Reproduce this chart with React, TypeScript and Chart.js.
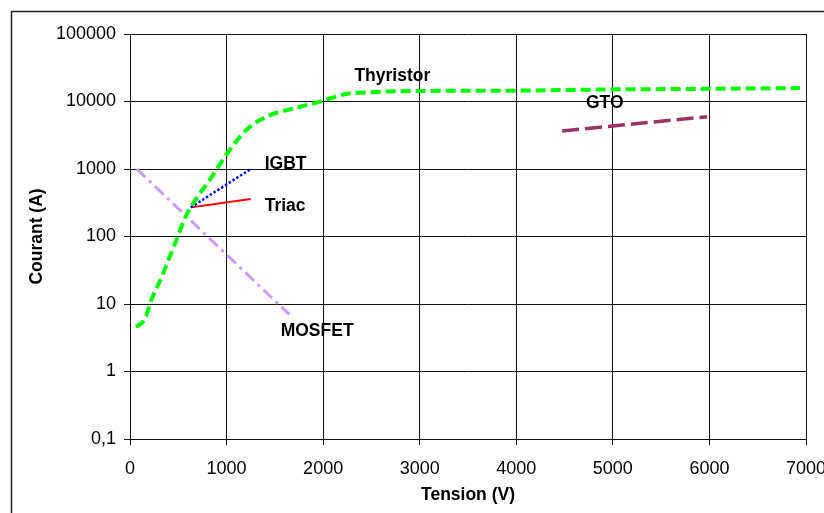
import React, { useEffect, useRef } from "react";
import { Chart, registerables } from "chart.js";

Chart.register(...registerables);

// ---- data ----
const thyristorV = [62, 120, 172, 207, 327, 482, 586, 689, 826, 1012, 1206, 1412, 1756, 1994, 2221, 2479, 2996, 3874, 4990, 5992, 6939];
const thyristorI = [4.6, 5.2, 6.9, 10.2, 25, 90, 210, 370, 690, 1740, 3800, 5960, 8300, 10200, 12800, 13700, 14300, 14450, 15100, 15400, 15800];

const mosfetV = [70, 1650];
const mosfetI = [1000, 7];

const igbtV = [630, 1250];
const igbtI = [270, 1000];

const triacV = [630, 1250];
const triacI = [270, 360];

const gtoV = [4475, 5975];
const gtoI = [3660, 5960];

const labelTexts = ["Thyristor", "IGBT", "Triac", "MOSFET", "GTO"];
const labelV = [2324, 1395, 1395, 1560, 4721];
const labelI = [23900, 1190, 283, 3.98, 9500];

const xTickValues = [0, 1000, 2000, 3000, 4000, 5000, 6000, 7000];
const xTickLabels = ["0", "1000", "2000", "3000", "4000", "5000", "6000", "7000"];
const yTickValues = [0.1, 1, 10, 100, 1000, 10000, 100000];
const yTickLabels = ["0,1", "1", "10", "100", "1000", "10000", "100000"];

const FONT = "'Liberation Sans', Arial, sans-serif";

const toPts = (xs: number[], ys: number[]) => xs.map((x, i) => ({ x, y: ys[i] }));

const framePlugin = {
  id: "frame",
  beforeDraw(chart: any) {
    const ctx = chart.ctx;
    ctx.save();
    ctx.fillStyle = "#fff";
    ctx.fillRect(0, 0, chart.width, chart.height);
    ctx.strokeStyle = "#222";
    ctx.lineWidth = 1.5;
    ctx.beginPath();
    ctx.moveTo(11.5, chart.height + 2);
    ctx.lineTo(11.5, 11.5);
    ctx.lineTo(chart.width + 2, 11.5);
    ctx.stroke();
    ctx.restore();
  },
};

const labelPlugin = {
  id: "seriesLabels",
  afterDatasetsDraw(chart: any) {
    const ctx = chart.ctx;
    const xs = chart.scales.x;
    const ys = chart.scales.y;
    ctx.save();
    ctx.fillStyle = "#000";
    ctx.font = `bold 17.5px ${FONT}`;
    ctx.textAlign = "left";
    ctx.textBaseline = "middle";
    labelTexts.forEach((t, i) => {
      ctx.fillText(t, xs.getPixelForValue(labelV[i]), ys.getPixelForValue(labelI[i]));
    });
    ctx.restore();
  },
};

const findLabel = (vals: number[], labels: string[], v: number) => {
  const i = vals.findIndex((t) => Math.abs(t - v) < 1e-9 * Math.max(1, Math.abs(t)));
  return i >= 0 ? labels[i] : "";
};

export default function App() {
  const ref = useRef<HTMLCanvasElement>(null);

  useEffect(() => {
    if (!ref.current) return;
    const chart = new Chart(ref.current, {
      type: "scatter",
      data: {
        datasets: [
          {
            label: "Thyristor",
            data: toPts(thyristorV, thyristorI),
            showLine: true,
            borderColor: "#00FF00",
            borderWidth: 4,
            borderDash: [10, 5],
            pointRadius: 0,
            cubicInterpolationMode: "monotone",
          },
          {
            label: "MOSFET",
            data: toPts(mosfetV, mosfetI),
            showLine: true,
            borderColor: "#CC99FF",
            borderWidth: 3,
            borderDash: [12, 5, 3, 5],
            pointRadius: 0,
          },
          {
            label: "IGBT",
            data: toPts(igbtV, igbtI),
            showLine: true,
            borderColor: "#0000FF",
            borderWidth: 2.5,
            borderDash: [2.5, 2],
            pointRadius: 0,
          },
          {
            label: "Triac",
            data: toPts(triacV, triacI),
            showLine: true,
            borderColor: "#FF0000",
            borderWidth: 2,
            pointRadius: 0,
          },
          {
            label: "GTO",
            data: toPts(gtoV, gtoI),
            showLine: true,
            borderColor: "#993366",
            borderWidth: 3.5,
            borderDash: [17, 6],
            pointRadius: 0,
          },
        ],
      },
      options: {
        responsive: false,
        animation: false,
        layout: { padding: { left: 0, top: 34, right: 18, bottom: 0 } },
        plugins: {
          legend: { display: false },
          tooltip: { enabled: false },
        },
        scales: {
          x: {
            type: "linear",
            min: 0,
            max: 7000,
            afterBuildTicks: (s: any) => {
              s.ticks = xTickValues.map((v) => ({ value: v }));
            },
            afterFit: (s: any) => {
              s.height = 74;
              s.paddingLeft = 0;
              s.paddingRight = 0;
            },
            grid: { color: "#111", lineWidth: 1, tickLength: 6, drawTicks: true },
            border: { color: "#111", width: 1 },
            ticks: {
              color: "#000",
              font: { family: FONT, size: 18 },
              padding: 13,
              maxRotation: 0,
              autoSkip: false,
              callback: (v: any) => findLabel(xTickValues, xTickLabels, Number(v)),
            },
            title: {
              display: true,
              text: "Tension (V)",
              color: "#000",
              font: { family: FONT, size: 17.5, weight: "bold" },
              padding: { top: 0, bottom: 7 },
            },
          },
          y: {
            type: "logarithmic",
            min: 0.1,
            max: 100000,
            afterBuildTicks: (s: any) => {
              s.ticks = yTickValues.map((v) => ({ value: v }));
            },
            afterFit: (s: any) => {
              s.width = 130;
            },
            grid: { color: "#111", lineWidth: 1, tickLength: 6, drawTicks: true },
            border: { color: "#111", width: 1 },
            ticks: {
              color: "#000",
              font: { family: FONT, size: 18 },
              padding: 8,
              autoSkip: false,
              callback: (v: any) => findLabel(yTickValues, yTickLabels, Number(v)),
            },
            title: {
              display: true,
              text: "Courant (A)",
              color: "#000",
              font: { family: FONT, size: 17.5, weight: "bold" },
              padding: { top: 27, bottom: 0 },
            },
          },
        },
      } as any,
      plugins: [framePlugin, labelPlugin],
    });
    return () => chart.destroy();
  }, []);

  return (
    <div style={{ position: "fixed", left: 0, top: 0, width: 824, height: 513, overflow: "hidden", background: "#fff" }}>
      <canvas ref={ref} width={824} height={513} style={{ display: "block", width: 824, height: 513 }} />
    </div>
  );
}
